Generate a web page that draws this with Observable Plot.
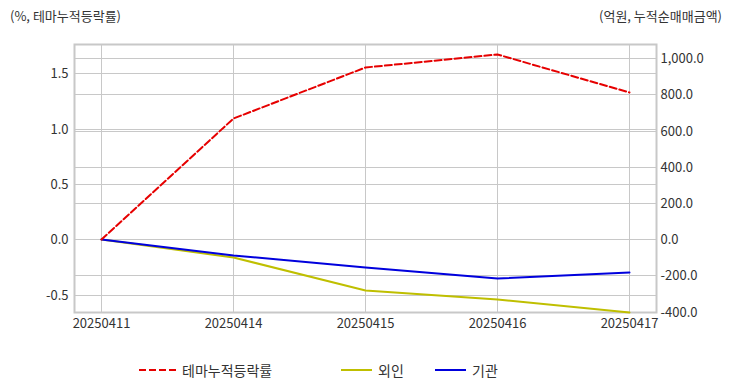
<!DOCTYPE html>
<html>
<head>
<meta charset="utf-8">
<script src="https://cdn.jsdelivr.net/npm/d3@7"></script>
<script src="https://cdn.jsdelivr.net/npm/@observablehq/plot@0.6"></script>
<style>
  html, body { margin: 0; padding: 0; background: #fff; }
  #wrap { position: relative; width: 732px; height: 392px; font-family: "Noto Sans CJK KR", "Noto Sans", sans-serif; color: #333; }
  .title { position: absolute; top: 6px; font-size: 13px; white-space: nowrap; }
  #legend { position: absolute; top: 360px; left: 0; width: 732px; height: 20px; font-size: 14px; }
  .item { position: absolute; top: 0; display: flex; align-items: center; height: 20px; white-space: nowrap; }
  .item svg { margin-right: 6px; }
</style>
</head>
<body>
<div id="wrap">
  <div class="title" style="left:10px;">(%, 테마누적등락률)</div>
  <div class="title" style="right:10px;">(억원, 누적순매매금액)</div>
  <div id="chart"></div>
  <div id="legend"></div>
</div>
<script>
const dates = ["20250411", "20250414", "20250415", "20250416", "20250417"];
const themeReturn = [0.0, 1.10, 1.56, 1.67, 1.33];      // 테마누적등락률 (%)
const foreignNet = [0, -100, -283, -328, -404];          // 외인 (억원)
const institutionNet = [0, -89, -154, -215, -182];       // 기관 (억원)
const leftTicks = [-0.5, 0.0, 0.5, 1.0, 1.5];
const rightTicks = [-400, -200, 0, 200, 400, 600, 800, 1000];
const leftDomain = [-0.657, 1.764];
const rightDomain = [-402, 1079];
const seriesNames = ["테마누적등락률", "외인", "기관"];
const seriesColors = ["#e60000", "#bfbf00", "#0000dd"];

const k = leftDomain[1] / rightDomain[1];
const rows = dates.map((d, i) => ({
  date: d,
  theme: themeReturn[i],
  foreign: foreignNet[i] * k,
  inst: institutionNet[i] * k
}));

const minusFix = s => s.replace("\u2212", "-");
const fmtL = v => minusFix(d3.format(".1f")(v));
const fmtR = v => minusFix(d3.format(",.1f")(Math.round(v / k * 10) / 10));
const gridStyle = { stroke: "#c8c8c8", strokeOpacity: 1, strokeWidth: 1 };

const chart = Plot.plot({
  width: 732,
  height: 392,
  marginTop: 44,
  marginBottom: 80,
  marginLeft: 74,
  marginRight: 76,
  x: { type: "point", domain: dates, padding: 0.2, round: true },
  y: { domain: leftDomain, round: true },
  style: { fontFamily: "'Noto Sans CJK KR', 'Noto Sans', sans-serif", fontSize: "13px", color: "#333", background: "transparent" },
  marks: [
    Plot.gridY(leftTicks, gridStyle),
    Plot.gridY(rightTicks.map(v => v * k), gridStyle),
    Plot.gridX(dates, gridStyle),
    Plot.frame({ stroke: "#c8c8c8", strokeWidth: 2 }),
    Plot.axisY(leftTicks, { anchor: "left", tickSize: 0, tickPadding: 6, tickFormat: fmtL, label: null }),
    Plot.axisY(rightTicks.map(v => v * k), { anchor: "right", tickSize: 0, tickPadding: 4, tickFormat: fmtR, label: null }),
    Plot.axisX(dates, { tickSize: 0, tickPadding: 6, label: null }),
    Plot.line(rows, { x: "date", y: "foreign", stroke: seriesColors[1], strokeWidth: 2 }),
    Plot.line(rows, { x: "date", y: "inst", stroke: seriesColors[2], strokeWidth: 2 }),
    Plot.line(rows, { x: "date", y: "theme", stroke: seriesColors[0], strokeWidth: 2, strokeDasharray: "7,3" })
  ]
});
document.getElementById("chart").appendChild(chart);

// legend
const legend = document.getElementById("legend");
const lefts = [139, 341, 435];
const widths = [37, 31, 31];
seriesNames.forEach((name, i) => {
  const div = document.createElement("div");
  div.className = "item";
  div.style.left = lefts[i] + "px";
  const dash = i === 0 ? ' stroke-dasharray="7,3"' : "";
  div.innerHTML = `<svg width="${widths[i]}" height="10"><line x1="0" y1="5" x2="${widths[i]}" y2="5" stroke="${seriesColors[i]}" stroke-width="2"${dash}/></svg><span>${name}</span>`;
  legend.appendChild(div);
});
</script>
</body>
</html>
